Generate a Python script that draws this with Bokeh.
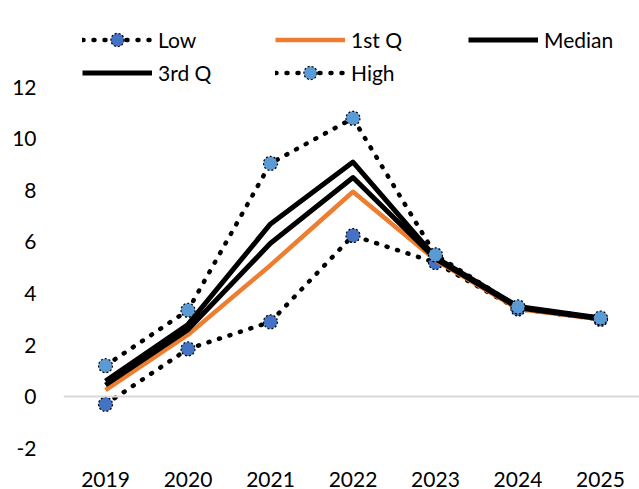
from bokeh.plotting import figure
from bokeh.models import Range1d, FixedTicker, Span, Legend, LegendItem
from bokeh.embed import file_html
from bokeh.resources import INLINE

years = [2019, 2020, 2021, 2022, 2023, 2024, 2025]
year_labels = ["2019", "2020", "2021", "2022", "2023", "2024", "2025"]
low = [-0.3, 1.85, 2.9, 6.25, 5.2, 3.4, 3.0]
first_q = [0.25, 2.4, 5.1, 7.95, 5.3, 3.4, 3.0]
median = [0.45, 2.6, 5.95, 8.5, 5.35, 3.45, 3.02]
third_q = [0.6, 2.8, 6.7, 9.1, 5.4, 3.5, 3.05]
high = [1.2, 3.35, 9.05, 10.8, 5.5, 3.48, 3.05]
y_ticks = [-2, 0, 2, 4, 6, 8, 10, 12]
y_tick_labels = ["-2", "0", "2", "4", "6", "8", "10", "12"]

FONT = "Lato"

# frame reaches the top edge so the legend (drawn inside it) is not clipped
p = figure(width=639, height=489, output_backend="svg", toolbar_location=None,
           x_range=Range1d(2018.491, 2025.473), y_range=Range1d(-2.13, 15.37),
           min_border_left=63, min_border_right=0, min_border_top=0, min_border_bottom=37)
p.outline_line_color = None
p.xgrid.visible = False
p.ygrid.visible = False

for ax in (p.xaxis[0], p.yaxis[0]):
    ax.axis_line_color = None
    ax.major_tick_line_color = None
    ax.minor_tick_line_color = None
    ax.major_label_text_font = FONT
    ax.major_label_text_font_size = "21px"
    ax.major_label_text_color = "#000000"

p.xaxis[0].ticker = FixedTicker(ticks=years)
p.xaxis[0].major_label_overrides = dict(zip(years, year_labels))
p.xaxis[0].major_label_standoff = 14
p.yaxis[0].ticker = FixedTicker(ticks=y_ticks)
p.yaxis[0].major_label_overrides = dict(zip(y_ticks, y_tick_labels))
p.yaxis[0].major_label_standoff = 21

p.add_layout(Span(location=0, dimension="width", line_color="#D9D9D9", line_width=2))

dot_kw = dict(line_color="black", line_width=4.5, line_dash="1 10", line_cap="round", line_join="round")
mk_kw = dict(size=14, line_color="black", line_width=1.2, line_dash="2 2")

r_low = p.line(years, low, **dot_kw)
m_low = p.scatter(years, low, fill_color="#4472C4", **mk_kw)
r_q1 = p.line(years, first_q, line_color="#ED7D31", line_width=4.5, line_join="round")
r_med = p.line(years, median, line_color="black", line_width=5, line_join="round")
r_q3 = p.line(years, third_q, line_color="black", line_width=5, line_join="round")
r_high = p.line(years, high, **dot_kw)
m_high = p.scatter(years, high, fill_color="#5B9BD5", **mk_kw)

legend = Legend(items=[
    LegendItem(label="Low", renderers=[r_low, m_low]),
    LegendItem(label="1st Q", renderers=[r_q1]),
    LegendItem(label="Median", renderers=[r_med]),
    LegendItem(label="3rd Q", renderers=[r_q3]),
    LegendItem(label="High", renderers=[r_high, m_high]),
], orientation="horizontal", ncols=3, location=(19, 362),
    glyph_width=70, glyph_height=33, label_height=33, label_width=117,
    label_standoff=6, spacing=0, padding=0, margin=0,
    border_line_color=None, background_fill_alpha=0,
    label_text_font=FONT, label_text_font_size="21px", label_text_color="#000000")
p.add_layout(legend, "center")

open("out.html", "w").write(file_html(p, INLINE))
